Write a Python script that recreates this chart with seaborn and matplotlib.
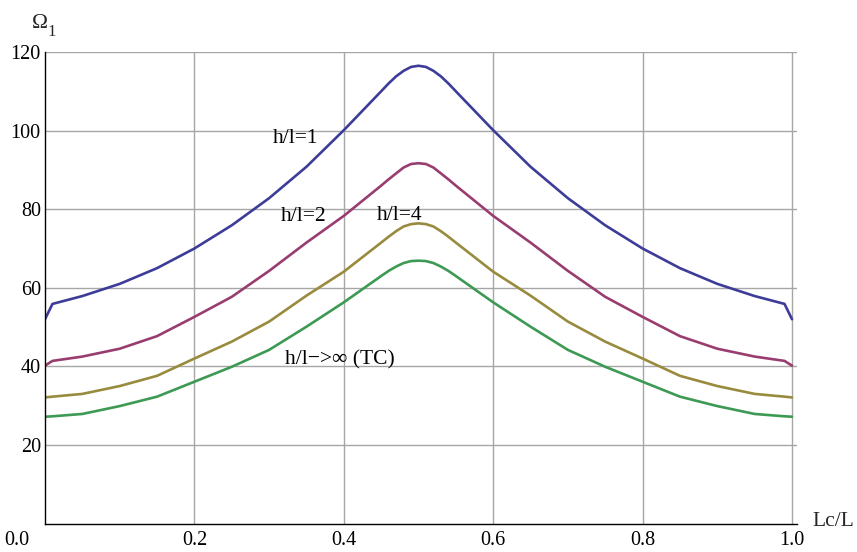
"""
Omega_1 vs Lc/L for several h/l ratios (Mathematica-style plot)
"""

import pandas as pd
import numpy as np
import matplotlib
matplotlib.use('Agg')
import matplotlib.pyplot as plt
import seaborn as sns
from matplotlib.ticker import MultipleLocator
import matplotlib.transforms as mtransforms

# ---- data ----
lc_over_l = [0.0, 0.01, 0.05, 0.10, 0.15, 0.20, 0.25, 0.30, 0.35, 0.40, 0.45, 0.46, 0.47,
             0.48, 0.49, 0.50, 0.51, 0.52, 0.53, 0.54, 0.55, 0.60, 0.65, 0.70, 0.75,
             0.80, 0.85, 0.90, 0.95, 0.99, 1.0]

omega_h1 = [52.0, 55.9, 57.9, 61.0, 65.0, 70.0, 75.9, 82.8, 90.8, 100.1, 110.0, 112.0, 113.8,
            115.2, 116.2, 116.5, 116.2, 115.2, 113.8, 112.0, 110.0, 100.1, 90.8, 82.8, 75.9,
            70.0, 65.0, 61.0, 57.9, 55.9, 52.0]
omega_h2 = [40.2, 41.4, 42.5, 44.5, 47.7, 52.6, 57.7, 64.3, 71.5, 78.3, 86.0, 87.6, 89.1,
            90.6, 91.5, 91.7, 91.5, 90.6, 89.1, 87.6, 86.0, 78.3, 71.5, 64.3, 57.7,
            52.6, 47.7, 44.5, 42.5, 41.4, 40.2]
omega_h4 = [32.1, 32.3, 33.0, 35.0, 37.6, 42.0, 46.3, 51.4, 58.0, 64.1, 71.5, 73.0, 74.4,
            75.6, 76.2, 76.4, 76.2, 75.6, 74.4, 73.0, 71.5, 64.1, 58.0, 51.4, 46.3,
            42.0, 37.6, 35.0, 33.0, 32.3, 32.1]
omega_tc = [27.2, 27.3, 27.9, 29.9, 32.3, 36.1, 39.9, 44.2, 50.1, 56.3, 63.0, 64.3, 65.4,
            66.3, 66.8, 66.9, 66.8, 66.3, 65.4, 64.3, 63.0, 56.3, 50.1, 44.2, 39.9,
            36.1, 32.3, 29.9, 27.9, 27.3, 27.2]

series_names = ['h/l=1', 'h/l=2', 'h/l=4', 'h/l->inf']
series_colors = ['#3d3d99', '#993d71', '#998b3d', '#3d9954']

label_text = ['h/l=1', 'h/l=2', 'h/l=4', 'h/l\u2212>\u221e (TC)']
label_x = [0.336, 0.346, 0.475, 0.395]
label_y = [98.1, 78.1, 78.5, 41.6]

x_ticks = [0.0, 0.2, 0.4, 0.6, 0.8, 1.0]
y_ticks = [20, 40, 60, 80, 100, 120]

# ---- build long-form table ----
df = pd.DataFrame({
    'x': lc_over_l * 4,
    'omega': omega_h1 + omega_h2 + omega_h4 + omega_tc,
    'series': sum([[n] * len(lc_over_l) for n in series_names], []),
})

sns.set_style('white')
plt.rcParams['font.family'] = ['Liberation Serif', 'DejaVu Serif']

fig = plt.figure(figsize=(8.57, 5.52), dpi=100)
ax = fig.add_axes([45 / 857, 1 - 523.6 / 552, 752 / 857, (523.6 - 52) / 552])

sns.lineplot(data=df, x='x', y='omega', hue='series', hue_order=series_names,
             palette=series_colors, linewidth=1.9, legend=False, ax=ax,
             estimator=None, sort=False)

ax.set_xlim(0, 1.0067)
ax.set_ylim(0, 120)
ax.set_xlabel('')
ax.set_ylabel('')

# grid only over the data range (Mathematica style)
for xv in x_ticks[1:]:
    ax.plot([xv, xv], [0, 120], color='#a6a6a6', linewidth=1.0, zorder=0)
for yv in y_ticks:
    ax.plot([0, 1.0067], [yv, yv], color='#a6a6a6', linewidth=1.0, zorder=0)

# axes: just left and bottom lines crossing at origin
for side in ['top', 'right']:
    ax.spines[side].set_visible(False)
for side in ['left', 'bottom']:
    ax.spines[side].set_color('black')
    ax.spines[side].set_linewidth(1.0)

ax.set_xticks(x_ticks)
ax.set_xticklabels([f'{v:.1f}' for v in x_ticks])
ax.set_yticks(y_ticks)
ax.set_yticklabels([str(v) for v in y_ticks])
ax.xaxis.set_minor_locator(MultipleLocator(0.05))
ax.yaxis.set_minor_locator(MultipleLocator(5))
ax.tick_params(axis='both', which='major', direction='in', length=6, width=1,
               labelsize=14.5, colors='black', pad=5)
ax.tick_params(axis='both', which='minor', direction='in', length=3, width=0.8,
               colors='black')
ax.tick_params(axis='y', which='major', pad=3)

# shift the origin label left of the axis
offset = mtransforms.ScaledTranslation(-28 / 100, 0, fig.dpi_scale_trans)
first = ax.get_xticklabels()[0]
first.set_transform(first.get_transform() + offset)

# curve labels
for txt, lx, ly in zip(label_text, label_x, label_y):
    ax.text(lx, ly, txt, fontsize=15.5, ha='center', va='center', color='black')

# axis names (Omega with a large subscript, as in the original)
fig.text(40 / 857, 1 - 24 / 552, '\u03a9', fontsize=15.5, ha='center', va='center')
fig.text(52 / 857, 1 - 32 / 552, '1', fontsize=12, ha='center', va='center')
fig.text(833 / 857, 1 - 522 / 552, 'Lc/L', fontsize=15.5, ha='center', va='center')

fig.savefig('out.png', dpi=100)
plt.close(fig)
